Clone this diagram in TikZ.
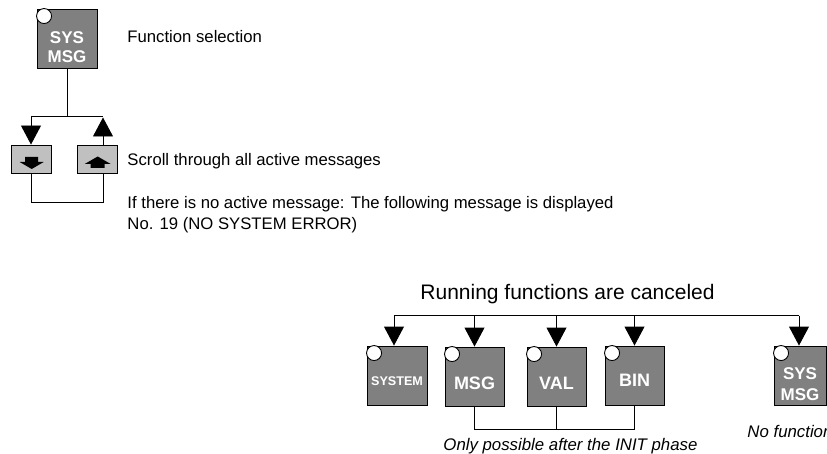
\documentclass[tikz,border=0pt]{standalone}
\usepackage{fontspec}
\setmainfont{Liberation Sans}
\usetikzlibrary{arrows.meta,calc}
\definecolor{boxgray}{HTML}{808080}
\definecolor{keylight}{HTML}{C0C0C0}
\begin{document}
\begin{tikzpicture}[x=1pt,y=-1pt,
  line width=0.9pt,
  gbox/.style={draw=black,fill=boxgray,minimum width=60pt,minimum height=59pt,inner sep=0pt},
  kbox/.style={draw=black,fill=keylight,minimum width=40pt,minimum height=28pt,inner sep=0pt},
  lamp/.style={draw=black,fill=white,circle,minimum size=15pt,inner sep=0pt},
  btext/.style={text=white,font=\bfseries\fontsize{18}{18}\selectfont,inner sep=0pt,align=center},
  stext/.style={font=\fontsize{16.7}{21}\selectfont,inner sep=0pt,anchor=base west,align=left},
  arr/.style={-{Triangle[width=20pt,length=19pt]}},
  icon/.style={fill=black,draw=none}
]
\useasboundingbox (0,0) rectangle (827,454);
\clip (0,0) rectangle (827,454);

% ---------- upper part ----------
\node[gbox] (top) at (67,38.5) {};
\node[lamp] (toplamp) at ($(top.north west)+(7.5,7.5)$) {};
\node[btext,font=\bfseries\fontsize{17}{19}\selectfont] (toptext) at (67,47) {SYS\\MSG};
\node[stext] (fsel) at (127,43) {Function selection};

\node[kbox] (lbox) at (31.7,159) {};
\node[kbox] (rbox) at (97.7,159) {};
\begin{scope}[shift={(lbox.center)}]
  \fill[icon] (-6.5,-2) -- (6.5,-2) -- (6.5,3) -- (12,3) -- (0,10) -- (-12,3) -- (-6.5,3) -- cycle;
\end{scope}
\begin{scope}[shift={(rbox.center)}]
  \fill[icon] (0,-2.5) -- (13,5) -- (7,5) -- (7,9) -- (-7,9) -- (-7,5) -- (-13,5) -- cycle;
\end{scope}

\coordinate (j1) at (67,116);
\coordinate (jl) at (31,116);
\coordinate (jr) at (103,116);
\coordinate (jrt) at (103,117.5);
\coordinate (bl1) at (31,202);
\coordinate (br1) at (103,202);
\draw (top.south) -- (j1);
\draw (jl) -- (jr);
\draw[arr] (jl) -- (jl |- lbox.north);
\draw[arr] (rbox.north -| jr) -- (jrt);
\draw (lbox.south -| bl1) -- (bl1) -- (br1) -- (rbox.south -| br1);

\node[stext] (scroll) at (127,166) {Scroll through all active messages};
\node[stext] (noact) at (127,230) {If there is no active message: The following message is displayed\\No. 19 (NO SYSTEM ERROR)};

% ---------- lower part ----------
\node[font=\fontsize{21}{24}\selectfont,inner sep=0pt,anchor=base west] (cancel) at (420,299.3) {Running functions are canceled};

\node[gbox] (system) at (397,375.5) {};
\node[gbox,minimum width=59pt] (msg) at (474.5,376.5) {};
\node[gbox,minimum width=59pt] (val) at (556.5,376.5) {};
\node[gbox,minimum width=59pt] (bin) at (634.5,375.5) {};
\node[gbox,minimum width=52pt] (sys2) at (800,375.5) {};

\foreach \b in {system,msg,val,bin,sys2}{
  \node[lamp] (\b lamp) at ($(\b.north west)+(7.5,7.5)$) {};
}

\node[btext,font=\bfseries\fontsize{12.6}{14}\selectfont] (systemtext) at (397,381) {SYSTEM};
\node[btext] (msgtext) at (474.5,383) {MSG};
\node[btext] (valtext) at (556.5,383) {VAL};
\node[btext] (bintext) at (634.5,380) {BIN};
\node[btext,font=\bfseries\fontsize{17}{21}\selectfont] (sys2text) at (800,384.5) {SYS\\MSG};

\coordinate (bl) at (394,315.5);
\coordinate (br) at (799,315.5);
\draw (bl) -- (br);
\draw[arr] (bl) -- (bl |- system.north);
\draw[arr] (msg.north |- bl) -- (msg.north);
\draw[arr] (val.north |- bl) -- (val.north);
\draw[arr] (bin.north |- bl) -- (bin.north);
\draw[arr] (br) -- (br |- sys2.north);

\coordinate (brk) at (0,429);
\draw (msg.south) -- (msg.south |- brk) -- (bin.south |- brk) -- (bin.south);
\draw (val.south) -- (val.south |- brk);

\node[font=\itshape\fontsize{16.8}{20}\selectfont,inner sep=0pt,anchor=base west] (init) at (443,450) {Only possible after the INIT phase};
\node[font=\itshape\fontsize{16.8}{20}\selectfont,inner sep=0pt,anchor=base west] (nofunc) at (747,437) {No function};
\end{tikzpicture}
\end{document}
